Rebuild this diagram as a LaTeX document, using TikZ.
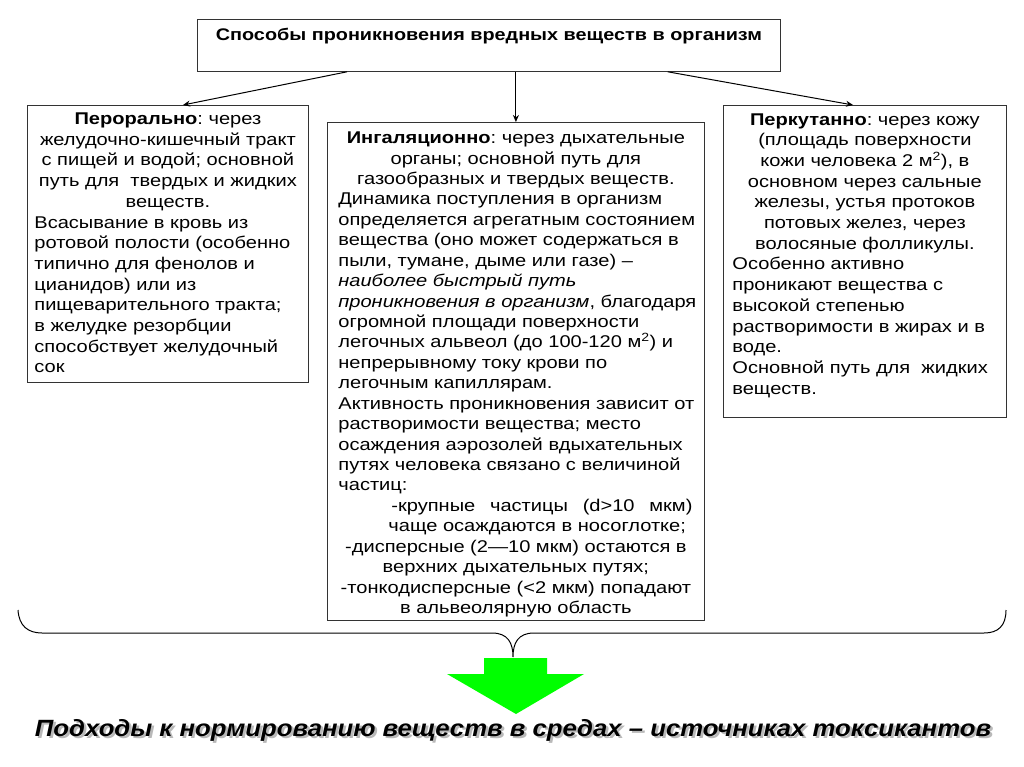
\documentclass[tikz,border=0pt]{standalone}
\usepackage{fontspec}
\setmainfont[FakeStretch=1.18]{Liberation Sans}
\newfontfamily\goalfont[FakeStretch=1.095]{Liberation Sans}
\usetikzlibrary{arrows.meta}
\definecolor{arrowgreen}{RGB}{0,255,0}
\newcommand{\cln}[1]{\makebox[\linewidth][c]{#1}}
\newcommand{\lln}[1]{\makebox[\linewidth][l]{#1}}
\newcommand{\msq}{м\textsuperscript{2}}
\newcommand{\goaltext}{Подходы к нормированию веществ в средах – источниках токсикантов}
\frenchspacing
\tikzset{
  box/.style={draw=black!80, line width=0.8pt, anchor=north west,
    font=\frenchspacing\fontsize{17}{20.7}\selectfont, inner xsep=0pt, inner ysep=0pt},
  conn/.style={line width=1pt, -{Stealth[length=7pt,width=6pt]}},
}
\begin{document}
\begin{tikzpicture}[x=1pt,y=-1pt]
\useasboundingbox (0,0) rectangle (1024,767);
\fill[white] (0,0) rectangle (1024,767);

\node[draw=black!80, line width=0.8pt, anchor=north west, minimum width=583pt, minimum height=52pt,
  inner sep=0pt, font=\bfseries\fontsize{16.8}{20}\selectfont] (top) at (197,19)
  {\parbox[c][52pt][t]{583pt}{\vspace*{8.5pt}\centering Способы проникновения вредных веществ в организм}};

\node[box, minimum width=281pt] (left) at (27,105) {\parbox[c][277pt][t]{267pt}{%
\vspace*{7.5pt}%
\cln{\textbf{Перорально}: через}\\
\cln{желудочно-кишечный тракт}\\
\cln{с пищей и водой; основной}\\
\cln{путь для\ \ твердых и жидких}\\
\cln{веществ.}\\
\lln{Всасывание в кровь из}\\
\lln{ротовой полости (особенно}\\
\lln{типично для фенолов и}\\
\lln{цианидов) или из}\\
\lln{пищеварительного тракта;}\\
\lln{в желудке резорбции}\\
\lln{способствует желудочный}\\
\lln{сок}}};

\node[box, minimum width=377pt, font=\frenchspacing\fontsize{17}{20.43}\selectfont] (mid) at (327,122) {\parbox[c][498pt][t]{355pt}{%
\vspace*{9.5pt}%
\cln{\textbf{Ингаляционно}: через дыхательные}\\
\cln{органы; основной путь для}\\
\cln{газообразных и твердых веществ.}\\
\lln{Динамика поступления в организм}\\
\lln{определяется агрегатным состоянием}\\
\lln{вещества (оно может содержаться в}\\
\lln{пыли, тумане, дыме или газе) –}\\
\lln{\textit{наиболее быстрый путь}}\\
\lln{\textit{проникновения в организм}, благодаря}\\
\lln{огромной площади поверхности}\\
\lln{легочных альвеол (до 100-120 \msq) и}\\
\lln{непрерывному току крови по}\\
\lln{легочным капиллярам.}\\
\lln{Активность проникновения зависит от}\\
\lln{растворимости вещества; место}\\
\lln{осаждения аэрозолей вдыхательных}\\
\lln{путях человека связано с величиной}\\
\lln{частиц:}\\
\lln{\hspace*{53pt}\makebox[301pt][l]{-крупные\hfill частицы\hfill (d>10\hfill мкм)}}\\
\lln{\hspace*{50pt}чаще осаждаются в носоглотке;}\\
\cln{-дисперсные (2—10 мкм) остаются в}\\
\cln{верхних дыхательных путях;}\\
\cln{-тонкодисперсные (<2 мкм) попадают}\\
\cln{в альвеолярную область}}};

\node[box, minimum width=283pt] (right) at (723,105) {\parbox[c][312pt][t]{265pt}{%
\vspace*{8pt}%
\cln{\textbf{Перкутанно}: через кожу}\\
\cln{(площадь поверхности}\\
\cln{кожи человека 2 \msq), в}\\
\cln{основном через сальные}\\
\cln{железы, устья протоков}\\
\cln{потовых желез, через}\\
\cln{волосяные фолликулы.}\\
\lln{Особенно активно}\\
\lln{проникают вещества с}\\
\lln{высокой степенью}\\
\lln{растворимости в жирах и в}\\
\lln{воде.}\\
\lln{Основной путь для\ \ жидких}\\
\lln{веществ.}}};

\draw[conn] (top.south west) ++(150,0) coordinate (tl) (tl) -- (left.north west -| 183,0);
\draw[conn] (top.south -| mid.north) -- (mid.north);
\draw[conn] (top.south east) ++(-113,0) coordinate (tr) (tr) -- (right.north west -| 853,0);

\coordinate (bracetip) at (513,657);
\draw[line width=1pt] (18,610) .. controls (19,626) and (28,633) .. (42,633) -- (492,633)
  .. controls (508,633) and (513,643) .. (bracetip)
  .. controls (513,643) and (518,633) .. (534,633) -- (984,633)
  .. controls (998,633) and (1006,626) .. (1006,610);

\fill[arrowgreen] (484,658) -- (547,658) -- (547,674) -- (584,674) -- (516,714) -- (447,674) -- (484,674) -- cycle;

\node[font=\goalfont\bfseries\itshape\fontsize{23.5}{26}\selectfont] (goal) at (513,730)
  {\makebox[0pt][l]{\raisebox{-2.5pt}[0pt][0pt]{\hspace*{2.5pt}\textcolor{gray!55}{\goaltext}}}\goaltext};
\end{tikzpicture}
\end{document}
